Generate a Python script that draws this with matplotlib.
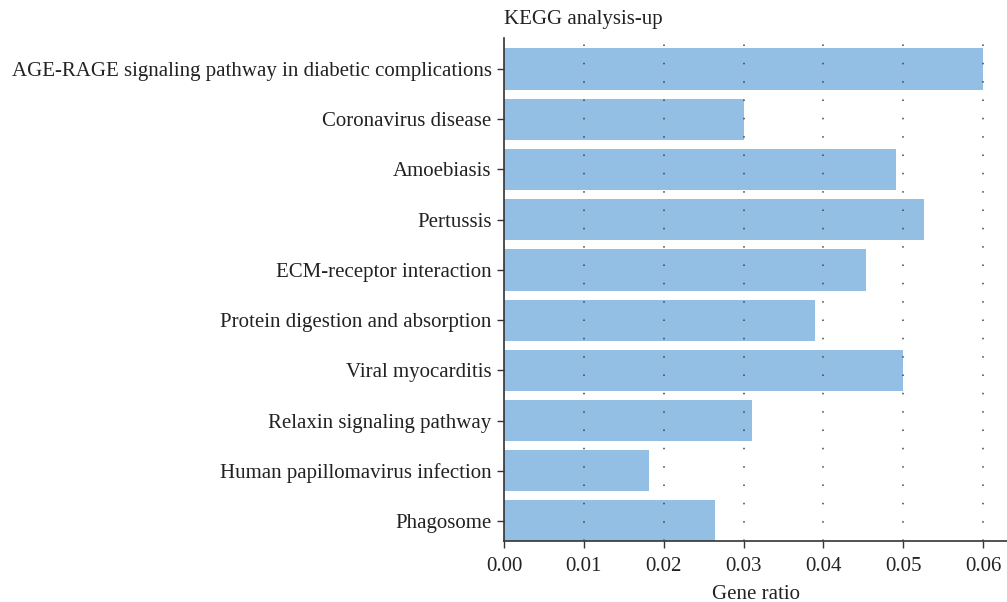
import numpy as np
import matplotlib
matplotlib.use('Agg')
import matplotlib.pyplot as plt

plt.rcParams['font.family'] = ['Liberation Serif', 'DejaVu Serif']

PATHWAYS = ['AGE-RAGE signaling pathway in diabetic complications',
            'Coronavirus disease',
            'Amoebiasis',
            'Pertussis',
            'ECM-receptor interaction',
            'Protein digestion and absorption',
            'Viral myocarditis',
            'Relaxin signaling pathway',
            'Human papillomavirus infection',
            'Phagosome']
GENE_RATIO = [0.0600, 0.0301, 0.0491, 0.0526, 0.0454, 0.0389, 0.0500, 0.0310, 0.0181, 0.0264]
X_TICKS = [0.00, 0.01, 0.02, 0.03, 0.04, 0.05, 0.06]

BAR_COLOR = '#93bfe4'
AXIS_COLOR = '#333333'
TEXT_COLOR = '#222222'
FS = 15

fig = plt.figure(figsize=(10.07, 6.02), dpi=100)
ax = fig.add_axes([0.5005, 0.102, 0.4995, 0.835])

y = np.arange(len(PATHWAYS))
ax.barh(y, GENE_RATIO, height=0.82, color=BAR_COLOR, zorder=1)
ax.set_yticks(y)
ax.set_yticklabels(PATHWAYS, fontsize=FS, color=TEXT_COLOR)
ax.set_ylim(len(PATHWAYS) - 1 + 0.39, -0.62)

ax.set_xlim(0, 0.063)
ax.set_xticks(X_TICKS)
ax.set_xticklabels([f'{v:.2f}' for v in X_TICKS], fontsize=FS, color=TEXT_COLOR)
ax.set_xlabel('Gene ratio', fontsize=FS, color=TEXT_COLOR, labelpad=6)

ax.xaxis.grid(True, linestyle=(0, (1, 11)), color='#444444', linewidth=1.1, zorder=2)
ax.set_axisbelow(False)

for side in ['top', 'right']:
    ax.spines[side].set_visible(False)
for side in ['left', 'bottom']:
    ax.spines[side].set_color(AXIS_COLOR)
    ax.spines[side].set_linewidth(1.2)
ax.tick_params(axis='both', direction='out', length=5, width=1.0, color=AXIS_COLOR)
ax.tick_params(axis='x', pad=7)
ax.tick_params(axis='y', pad=4)

ax.set_title('KEGG analysis-up', loc='left', fontsize=FS, color=TEXT_COLOR, pad=10)

fig.savefig('out.png', dpi=100)
